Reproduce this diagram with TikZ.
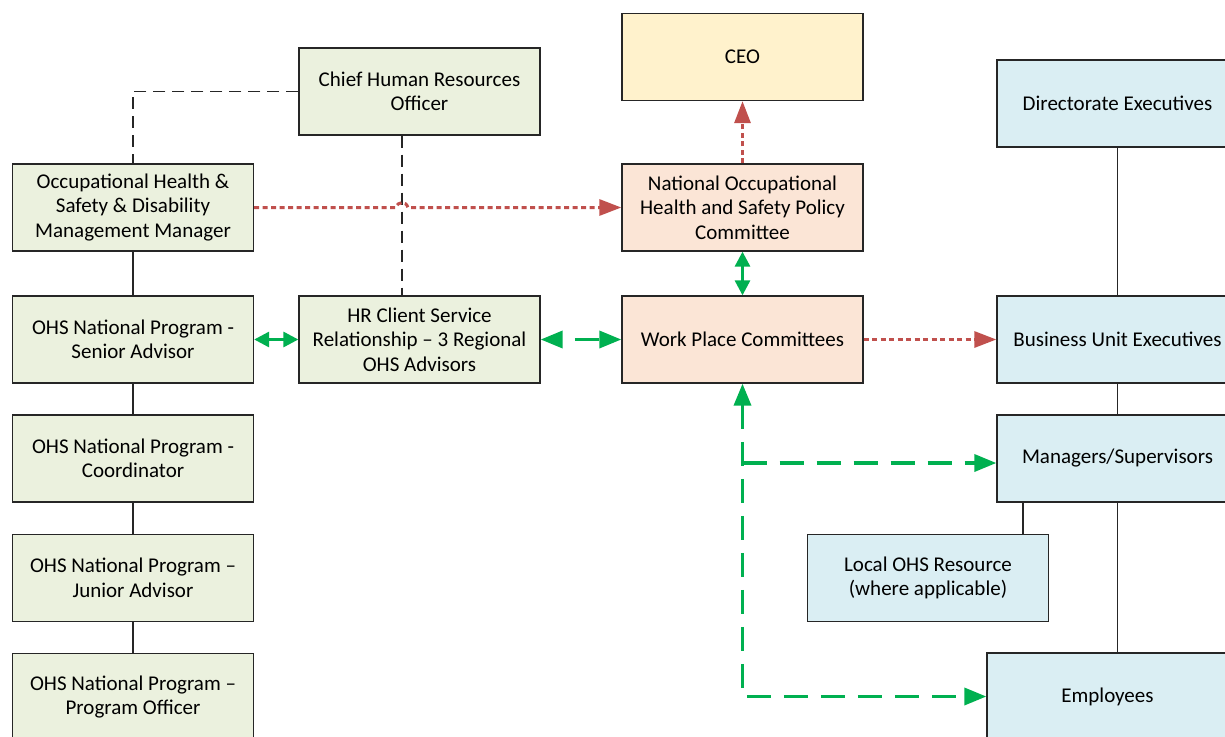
\documentclass[tikz,border=0pt]{standalone}
\usepackage{fontspec}
\setmainfont{Carlito}
\usetikzlibrary{arrows.meta}
\definecolor{boxgreen}{HTML}{EBF1DE}
\definecolor{boxyellow}{HTML}{FFF2CC}
\definecolor{boxpeach}{HTML}{FBE5D6}
\definecolor{boxblue}{HTML}{DAEEF3}
\definecolor{arrgreen}{HTML}{00B050}
\definecolor{arrred}{HTML}{C0504D}
\begin{document}
\begin{tikzpicture}[x=1pt,y=-1pt,
  box/.style={draw=black!85,line width=1.3pt,minimum width=241pt,minimum height=87pt,
    align=center,inner sep=0pt,font=\fontsize{21}{24.5}\selectfont},
  orgline/.style={draw=black!85,line width=1.3pt},
  hrdash/.style={orgline,dash pattern=on 12pt off 7pt},
  reddot/.style={draw=arrred,line width=3pt,dash pattern=on 5pt off 3.5pt,
    -{Triangle[length=22pt,width=16pt]}},
  greendash/.style={draw=arrgreen,line width=3.5pt,dash pattern=on 24pt off 13pt},
  greensolid/.style={draw=arrgreen,line width=3pt},
  bigtip/.tip={Triangle[length=22pt,width=17pt]},
  smalltip/.tip={Triangle[length=15pt,width=15pt]}]
\useasboundingbox (0,0) rectangle (1225,736);
\clip (0,0) rectangle (1225,736);
% left column
\node[box,fill=boxgreen] (chro) at (419.5,91.5) {Chief Human Resources\\Officer};
\node[box,fill=boxgreen] (mgr) at (133,207.5) {Occupational Health \&\\Safety \& Disability\\Management Manager};
\node[box,fill=boxgreen] (senior) at (133,339.5) {OHS National Program -\\Senior Advisor};
\node[box,fill=boxgreen] (coord) at (133,458.5) {OHS National Program -\\Coordinator};
\node[box,fill=boxgreen] (junior) at (133,578) {OHS National Program –\\Junior Advisor};
\node[box,fill=boxgreen] (progoff) at (133,697) {OHS National Program –\\Program Officer};
\node[box,fill=boxgreen] (hrc) at (419.5,339.5) {HR Client Service\\Relationship – 3 Regional\\OHS Advisors};
% middle column
\node[box,fill=boxyellow] (ceo) at (742.5,57) {CEO};
\node[box,fill=boxpeach] (policy) at (742.5,207.5) {National Occupational\\Health and Safety Policy\\Committee};
\node[box,fill=boxpeach] (wpc) at (742.5,339.5) {Work Place Committees};
% right column
\node[box,fill=boxblue] (dir) at (1117.5,103.5) {Directorate Executives};
\node[box,fill=boxblue] (bue) at (1117.5,339.5) {Business Unit Executives};
\node[box,fill=boxblue] (mgs) at (1117.5,458.5) {Managers/Supervisors};
\node[box,fill=boxblue] (local) at (928,578) {Local OHS Resource\\(where applicable)};
\node[box,fill=boxblue] (emp) at (1107.5,696.5) {Employees};
\coordinate (hrtap) at (402,0);
\coordinate (localtap) at (1023,0);

% reporting lines
\draw[orgline] (mgr) -- (senior);
\draw[orgline] (senior) -- (coord);
\draw[orgline] (coord) -- (junior);
\draw[orgline] (junior) -- (progoff);
\draw[orgline] (dir) -- (bue);
\draw[orgline] (bue) -- (mgs);
\draw[orgline] (mgs.south) -- (mgs.south |- emp.north);
\draw[orgline] (localtap |- mgs.south) -- (localtap |- local.north);
\draw[hrdash] (chro.west) -| (mgr.north);
\draw[hrdash] (hrtap |- chro.south) -- (hrtap |- hrc.north);

% red reporting
\draw[reddot] (mgr.east) -- (396,207.5) .. controls (398,201) and (406,201) .. (408,207.5) -- (policy.west);
\draw[reddot] (policy) -- (ceo);
\draw[reddot] (wpc) -- (bue);

% green communication
\draw[greensolid,{smalltip}-{smalltip}] (policy) -- (wpc);
\draw[greensolid,{smalltip}-{smalltip}] (senior) -- (hrc);
\draw[greendash,dash phase=24pt,{bigtip}-{bigtip}] (hrc) -- (wpc);
\draw[greendash,{bigtip}-{bigtip}] (wpc.south) |- (emp.west);
\draw[greendash,-{bigtip}] (wpc.south |- 0,463) -- (mgs.west |- 0,463);
\end{tikzpicture}
\end{document}
